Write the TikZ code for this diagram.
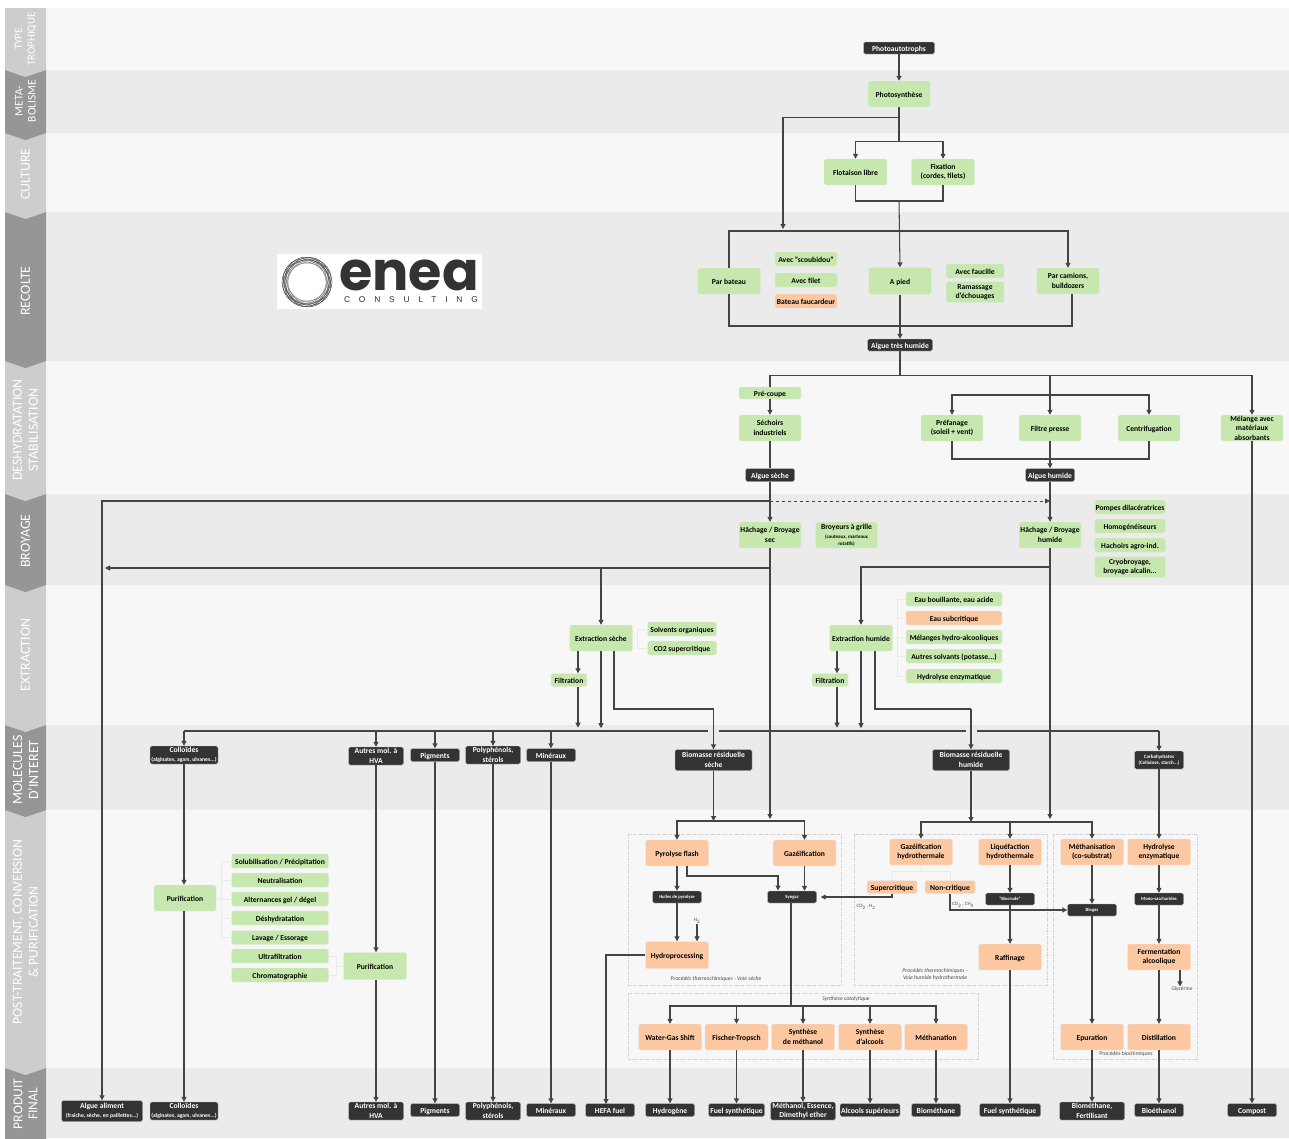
\documentclass[tikz,border=0pt]{standalone}
\usepackage{fontspec}
\usepackage{tikz}
\usetikzlibrary{arrows.meta}
\setmainfont{Carlito}
\newfontfamily\logobig{Poppins}
\newfontfamily\logotext[LetterSpace=105]{Liberation Sans}
\newcommand{\tinyline}[1]{{\fontsize{4.7}{6}\selectfont #1}}
\newcommand{\subline}[1]{{\fontsize{5.7}{6}\selectfont #1}}
\newcommand{\midline}[1]{{\fontsize{5}{6}\selectfont #1}}
\definecolor{bandlight}{HTML}{F7F7F7}
\definecolor{bandgray}{HTML}{EBEBEB}
\definecolor{tablight}{HTML}{CDCDCD}
\definecolor{tabdark}{HTML}{969696}
\definecolor{boxgreen}{HTML}{C6E8AE}
\definecolor{boxorange}{HTML}{FCC8A2}
\definecolor{boxdark}{HTML}{333333}
\definecolor{linegray}{HTML}{444444}
\tikzset{
	boxbase/.style={rounded corners=1.5pt,inner sep=0pt,align=center,font=\fontsize{7.6}{9.5}\selectfont\bfseries},
	greennode/.style={boxbase,fill=boxgreen,draw=black!8,text=black,execute at begin node={\rule{0pt}{7.6pt}}},
	orangenode/.style={boxbase,fill=boxorange,draw=black!8,text=black,execute at begin node={\rule{0pt}{7.6pt}}},
	darknode/.style={boxbase,fill=boxdark,draw=black!25,text=white,execute at begin node={\rule{0pt}{7.6pt}}},
	tinydark/.style={boxbase,fill=boxdark,draw=black!25,text=white},
	conn/.style={draw=linegray,line width=1.05pt},
	arr/.style={conn,-{Triangle[length=5pt,width=5pt]}},
	faint/.style={draw=black!8,line width=0.5pt},
	groupbox/.style={draw=black!18,line width=0.6pt,dash pattern=on 3pt off 1pt on 1pt off 1pt},
	caption/.style={inner sep=0pt,align=center,text=black!70,font=\fontsize{5.7}{7}\selectfont\itshape},
	tabtext/.style={inner sep=0pt,align=center,rotate=90,text=white}
}
\begin{document}
\begin{tikzpicture}[x=1pt,y=-1pt]
	\useasboundingbox (0,0) rectangle (1289,1138);
	\foreach \ytop/\ybot/\shade in {8/70/bandlight,70/133/bandgray,133/212/bandlight,212/361/bandgray,361/494/bandlight,494/585/bandgray,585/725/bandlight,725/810/bandgray,810/1068/bandlight,1068/1138/bandgray} {
		\fill[\shade] (46,\ytop) rectangle (1289,\ybot);
	}
	\foreach \ytop/\ybot/\shade in {1068/1145/tabdark,810/1068/tablight,725/810/tabdark,585/725/tablight,494/585/tabdark,361/494/tablight,212/361/tabdark,133/212/tablight,70/133/tabdark,8/70/tablight} {
		\fill[\shade] (5,\ytop) -- (46,\ytop) -- (46,\ybot) -- (25.5,\ybot+7) -- (5,\ybot) -- cycle;
	}
	\foreach \nodeid/\cy/\fs/\ls/\txt in {tabtype/39/11/13/{TYPE\\TROPHIQUE},tabmeta/101/11.5/13/{META-\\BOLISME},tabculture/174/14/14/CULTURE,tabrecolte/291/14/14/RECOLTE,tabdeshyd/430/14/16/{DESHYDRATATION\\STABILISATION},tabbroyage/541/14/14/BROYAGE,tabextraction/655/14/14/EXTRACTION,tabmolecules/770/14/16/{MOLECULES\\D'INTERET},tabpost/932/13.7/16/{POST-TRAITEMENT, CONVERSION\\\& PURIFICATION},tabproduit/1104/13.5/15/{PRODUIT\\FINAL}} {
		\node[tabtext,font=\fontsize{\fs}{\ls}\selectfont] (\nodeid) at (25.5,\cy) {\txt};
	}
	\fill[white] (277,254) rectangle (482,309);
	\foreach \angle in {0,35,70,105,140} {
		\draw[black!70,line width=0.5pt] (307,282) ellipse[x radius=25,y radius=22,rotate=\angle];
		\draw[black!55,line width=0.4pt] (307,282) ellipse[x radius=22,y radius=19,rotate=\angle];
	}
	\node[inner sep=0pt,font=\logobig\bfseries\fontsize{54}{54}\selectfont,text=boxdark] (logoname) at (409,275) {enea};
	\node[inner sep=0pt,font=\logotext\fontsize{8.4}{9}\selectfont,text=boxdark] (logoline) at (411,300) {CONSULTING};

	\draw[groupbox] (628,834) rectangle (841,985);
	\draw[groupbox] (854,834) rectangle (1047,985);
	\draw[groupbox] (628,993) rectangle (978,1059);
	\draw[groupbox] (1053,834) rectangle (1197,1059);

	\foreach \nodeid/\cx/\cy/\bw/\bh/\txt in {
		photosyn/899/94/62/26/Photosynthèse,
		flottaison/855.5/172/63/26/Flotaison libre,
		fixation/943/172/63/26/{Fixation\\(cordes, filets)},
		parbateau/729/281/63/26/Par bateau,
		scoubidou/806/259/62/14/{Avec "scoubidou"},
		avecfilet/806/280/62/14/Avec filet,
		apied/900/281/63/27/A pied,
		faucille/975/271/58/14/Avec faucille,
		ramassage/975/292/58/21/{Ramassage\\d'échouages},
		camions/1068/281/63/26/{Par camions,\\bulldozers},
		precoupe/770/393/62/12/Pré-coupe,
		sechoirs/770/428/62/26/{Séchoirs\\industriels},
		prefanage/952/428/62/26/{Préfanage\\(soleil + vent)},
		filtrepresse/1050/428/62/26/Filtre presse,
		centrif/1149/428/62/26/Centrifugation,
		melange/1252/428/62/26/{Mélange avec\\matériaux\\absorbants},
		hachsec/770/535/62/26/{Hâchage / Broyage\\sec},
		broyeurs/846.5/535/62/26/{Broyeurs à grille\\\midline{(couteaux, marteaux}\\[-3pt]\midline{rotatifs)}},
		hachhum/1050/535/62/26/{Hâchage / Broyage\\humide},
		pompes/1130/507/71/14/Pompes dilacératrices,
		homog/1130/526/71/14/Homogénéiseurs,
		hachoirs/1130/545/71/14/Hachoirs agro-ind.,
		cryo/1130/567/71/21/{Cryobroyage,\\broyage alcalin...},
		extsec/601/638/63/26/Extraction sèche,
		solvants/682/629/69/14/Solvents organiques,
		cotwo/682/648/69/14/CO2 supercritique,
		filtra/569/680/36/13/Filtration,
		exthum/861/638/63/26/Extraction humide,
		eaubouil/954/599/96/14/{Eau bouillante, eau acide},
		melhydro/954/637/96/14/Mélanges hydro-alcooliques,
		autressolv/954/656/96/14/{Autres solvants (potasse...)},
		hydrolyse/954/676/96/14/Hydrolyse enzymatique,
		filtrb/830/680/36/13/Filtration,
		purifa/185/898/62/26/Purification,
		solub/280/861/97/14/{Solubilisation / Précipitation},
		neutral/280/880/97/14/Neutralisation,
		gelage/280/899/97/14/{Alternances gel / dégel},
		deshyd/280/918/97/14/Déshydratation,
		lavage/280/937.5/97/14/{Lavage / Essorage},
		ultra/280/956/97/14/Ultrafiltration,
		chroma/280/975/97/14/Chromatographie,
		purifb/375/966/63/27/Purification} {
		\node[greennode,minimum width=\bw,minimum height=\bh] (\nodeid) at (\cx,\cy) {\txt};
	}
	\foreach \nodeid/\cx/\cy/\bw/\bh/\txt in {
		faucardeur/806/301/62/14/Bateau faucardeur,
		eausub/954/618/96/14/Eau subcritique,
		pyro/677/853/63/26/Pyrolyse flash,
		gazeif/804.5/853/63/26/Gazéification,
		gazhydro/921/852/63/26/{Gazéification\\hydrothermale},
		liquef/1010/852/63/26/{Liquéfaction\\hydrothermale},
		methanis/1092/852/63/26/{Méthanisation\\(co-substrat)},
		hydrenz/1159/852/63/26/{Hydrolyse\\enzymatique},
		supercrit/892/887/50/13/Supercritique,
		noncrit/950/887/50/13/Non-critique,
		hydroproc/677/955/63/27/Hydroprocessing,
		raffinage/1010/957/63/26/Raffinage,
		ferment/1159/957/63/26/{Fermentation\\alcoolique},
		wgs/670/1037/63/26/Water-Gas Shift,
		fischer/736.5/1037/63/26/Fischer-Tropsch,
		synmeth/803/1037/63/26/{Synthèse\\de méthanol},
		synalc/870/1037/63/26/{Synthèse\\d'alcools},
		methanat/936/1037/63/26/Méthanation,
		epur/1092/1037/63/26/Epuration,
		distil/1159/1037/63/26/Distillation} {
		\node[orangenode,minimum width=\bw,minimum height=\bh] (\nodeid) at (\cx,\cy) {\txt};
	}
	\foreach \nodeid/\cx/\cy/\bw/\bh/\txt in {
		photo/899/48/71/12/Photoautotrophs,
		tres/900/345/65/12/Algue très humide,
		algueseche/770/475/49/13/Algue sèche,
		alguehumide/1050/475/49/13/Algue humide,
		colloa/184/755/68/18/{Colloïdes\\[-1pt]\subline{(alginates, agars, ulvanes...)}},
		autresa/376/756/55/18/{Autres mol. à\\HVA},
		pigma/435/755/49/13/Pigments,
		polya/493/755/55/18/{Polyphénols,\\stérols},
		minea/551/755/49/13/Minéraux,
		biosec/713.5/760/77/21/{Biomasse résiduelle\\sèche},
		biohum/971/760/77/21/{Biomasse résiduelle\\humide},
		alguefin/102/1111/81/21/{Algue aliment\\[-1pt]\subline{(fraîche, sèche, en paillettes...)}},
		collofin/184/1111/68/18/{Colloïdes\\[-1pt]\subline{(alginates, agars, ulvanes...)}},
		autresfin/376/1111/55/18/{Autres mol. à\\HVA},
		pigmfin/435/1110/49/13/Pigments,
		polyfin/493/1111/55/18/{Polyphénols,\\stérols},
		minefin/551/1110/49/13/Minéraux,
		hefafin/610/1110/49/13/HEFA fuel,
		hydrofin/670/1110/49/13/Hydrogène,
		fuelfin/736.5/1110/56/13/Fuel synthétique,
		methafin/803/1111/65/18/{Méthanol, Essence,\\Dimethyl ether},
		alcfin/870/1110/60/13/Alcools supérieurs,
		biomfin/936/1110/49/13/Biométhane,
		fueltwo/1010/1110/61/13/Fuel synthétique,
		fertfin/1092/1111/65/18/{Biométhane,\\Fertilisant},
		bioetfin/1159/1110/49/13/Bioéthanol,
		compost/1252/1110/49/13/Compost} {
		\node[darknode,minimum width=\bw,minimum height=\bh] (\nodeid) at (\cx,\cy) {\txt};
	}
	\foreach \nodeid/\cx/\cy/\bw/\bh/\txt in {
		carbo/1159/760/49/18/{\midline{Carbohydrates}\\[-3pt]\midline{(Cellulose, starch...)}},
		huiles/677/897/49/12/{\tinyline{Huiles de pyrolyse}},
		syngaz/792/897/49/12/{\tinyline{Syngaz}},
		biocrude/1010/899/49/12/{\tinyline{"Biocrude"}},
		biogaz/1092/910/49/12/{\tinyline{Biogaz}},
		mono/1159/899/49/12/{\tinyline{Mono-saccharides}}} {
		\node[tinydark,minimum width=\bw,minimum height=\bh] (\nodeid) at (\cx,\cy) {\txt};
	}
	\node[caption] (capseche) at (716,979) {Procédés thermochimiques - Voie sèche};
	\node[caption] (caphumide) at (935,974) {Procédés thermochimiques -\\Voie humide hydrothermale};
	\node[caption] (capsynth) at (846,999) {Synthèse catalytique};
	\node[caption,font=\fontsize{5.7}{7}\selectfont] (capbio) at (1126,1054) {Procédés biochimiques};
	\node[caption,font=\fontsize{5}{6}\selectfont] (htwo) at (697,921) {H\textsubscript{2}};
	\node[caption,font=\fontsize{5}{6}\selectfont] (cohyd) at (866,907) {CO\textsubscript{2} , H\textsubscript{2}};
	\node[caption,font=\fontsize{5}{6}\selectfont] (coch) at (963,905) {CO\textsubscript{2} , CH\textsubscript{4}};
	\node[caption,font=\fontsize{5.5}{7}\selectfont] (glycerine) at (1182,989) {Glycérine};

	\foreach \parent/\child in {parbateau/scoubidou,parbateau/avecfilet,parbateau/faucardeur,apied/faucille,apied/ramassage,hachsec/broyeurs,hachhum/pompes,hachhum/homog,hachhum/hachoirs,hachhum/cryo,extsec/solvants,extsec/cotwo,exthum/eaubouil,exthum/eausub,exthum/melhydro,exthum/autressolv,exthum/hydrolyse,purifa/solub,purifa/neutral,purifa/gelage,purifa/deshyd,purifa/lavage} {
		\draw[faint] (\parent.east) -- ([xshift=5pt]\parent.east) |- (\child.west);
	}
	\foreach \child in {ultra,chroma} {
		\draw[faint] (purifb.west) -- ([xshift=-7pt]purifb.west) |- (\child.east);
	}
	\draw[faint] (gazhydro.south) -- ++(0,6) -| (supercrit.north);
	\draw[faint] (gazhydro.south) -- ++(0,6) -| (noncrit.north);

	\coordinate (cultureturn) at (783,229);
	\coordinate (footfork) at (899,201);
	\coordinate (harvest) at (900,231);
	\coordinate (gather) at (900,326);
	\coordinate (dryfan) at (1050,375);
	\coordinate (presstop) at (1050,395);
	\coordinate (pressbot) at (1050,459);
	\coordinate (leftturn) at (770,501);
	\coordinate (wetturn) at (1050,501);
	\coordinate (feedfork) at (770,568);
	\coordinate (feedtip) at (105,568);
	\coordinate (dryfork) at (601,568);
	\coordinate (wetfork) at (1050,567);
	\coordinate (busa) at (184,731);
	\coordinate (busb) at (708,731);
	\coordinate (busc) at (719,731);
	\coordinate (busd) at (966,731);
	\coordinate (buse) at (977,731);
	\coordinate (busf) at (1159,731);
	\coordinate (dryin) at (770,819);
	\coordinate (wetin) at (1050,819);
	\coordinate (drybar) at (713.5,821);
	\coordinate (wetbar) at (971,822);
	\coordinate (catbar) at (791,1006);
	\coordinate (hefadrop) at (606,1104);
	\coordinate (dryturn) at (713.5,709);
	\coordinate (wetjump) at (971,709);
	\coordinate (pyroturn) at (778,876);
	\coordinate (pyroin) at (778,890.5);

	\draw[arr] (photo.south) -- (photosyn.north);
	\draw[arr] (photosyn.south) -- ++(0,10) -| (cultureturn);
	\draw[arr] (photosyn.south) -- ++(0,34) -| (flottaison.north);
	\draw[arr] (photosyn.south) -- ++(0,34) -| (fixation.north);
	\draw[conn] (flottaison.south) |- (footfork) -| (fixation.south);
	\draw[arr] (footfork) -- (apied.north);
	\draw[arr] (parbateau.north) |- (harvest) -| (camions.north);
	\draw[conn] (parbateau.south) |- (gather) -| ([xshift=4pt]camions.south);
	\draw[arr] (apied.south) -- (tres.north);
	\draw[conn] (tres.south) -- ++(0,24) coordinate (deshydbar);
	\draw[conn] (precoupe.north) |- (deshydbar);
	\draw[arr] (deshydbar) -| (melange.north);
	\draw[arr] (dryfan) -- (filtrepresse.north);
	\draw[arr] (presstop) -| (prefanage.north);
	\draw[arr] (presstop) -| (centrif.north);
	\draw[arr] (precoupe.south) -- (sechoirs.north);
	\draw[conn] (prefanage.south) |- (pressbot) -| (centrif.south);
	\draw[arr] (filtrepresse.south) -- (alguehumide.north);
	\draw[conn] (sechoirs.south) -- (algueseche.north);
	\draw[arr] (algueseche.south) -- (hachsec.north);
	\draw[arr] (alguehumide.south) -- (hachhum.north);
	\draw[arr] (leftturn) -| (alguefin.north);
	\draw[arr,dashed,line width=0.8pt] (leftturn) -- (wetturn);
	\draw[arr] (hachsec.south) -- (dryin);
	\draw[arr] (feedfork) -- (feedtip);
	\draw[arr] (dryfork) -- (extsec.north);
	\draw[arr] (hachhum.south) -- (wetin);
	\draw[arr] (wetfork) -| (exthum.north);
	\draw[arr] ([xshift=-23pt]extsec.south) -- ([xshift=9pt]filtra.north);
	\draw[arr] ([xshift=9pt]filtra.south) -- ++(0,41);
	\draw[arr] (extsec.south) -- ++(0,77);
	\draw[conn] ([xshift=13pt]extsec.south) |- (dryturn);
	\draw[arr] (dryturn) -- (biosec.north);
	\draw[arr] ([xshift=-24pt]exthum.south) -- ([xshift=7pt]filtrb.north);
	\draw[arr] ([xshift=7pt]filtrb.south) -- ++(0,41);
	\draw[arr] (exthum.south) -- ++(0,77);
	\draw[conn] ([xshift=14pt]exthum.south) |- (wetjump);
	\draw[arr] (wetjump) -- (biohum.north);
	\draw[conn] (busa) -- (busb);
	\draw[conn] (busc) -- (busd);
	\draw[conn] (buse) -- (busf);
	\draw[arr] (busa) -- (colloa.north);
	\foreach \child in {autresa,pigma,polya,minea} {
		\draw[arr] (\child.north |- busa) -- (\child.north);
	}
	\draw[arr] (busf) -- (carbo.north);
	\draw[arr] (colloa.south) -- (colloa.south |- purifa.north);
	\draw[arr] (colloa.south |- purifa.south) -- (collofin.north);
	\draw[arr] (autresa.south) -- (autresa.south |- purifb.north);
	\draw[arr] (autresa.south |- purifb.south) -- (autresfin.north);
	\draw[arr] (pigma.south) -- (pigmfin.north);
	\draw[arr] (polya.south) -- (polyfin.north);
	\draw[arr] (minea.south) -- (minefin.north);
	\draw[arr] (biosec.south) -- (drybar);
	\draw[arr] (drybar) -| (pyro.north);
	\draw[arr] (drybar) -| (gazeif.north);
	\draw[arr] (biohum.south) -- (wetbar);
	\draw[arr] (wetbar) -| (gazhydro.north);
	\draw[arr] (wetbar) -| (liquef.north);
	\draw[arr] (wetbar) -| (methanis.north);
	\draw[arr] (carbo.south) -- (hydrenz.north);
	\draw[arr] (pyro.south) -- (huiles.north);
	\draw[arr] ([xshift=10pt]pyro.south) |- (pyroturn) -- (pyroin);
	\draw[arr] (gazeif.south) -- (gazeif.south |- syngaz.north);
	\draw[arr] (huiles.south) -- (hydroproc.north);
	\draw[arr] (htwo.south) -- (htwo.south |- hydroproc.north);
	\draw[arr] (hydroproc.west) -| (hefadrop);
	\draw[arr] (supercrit.south) |- ([xshift=4pt]syngaz.east);
	\draw[arr] (noncrit.south) |- (biogaz.west);
	\draw[arr] (liquef.south) -- (biocrude.north);
	\draw[arr] (biocrude.south) -- (raffinage.north);
	\draw[arr] (raffinage.south) -- (fueltwo.north);
	\draw[arr] (methanis.south) -- (biogaz.north);
	\draw[arr] (biogaz.south) -- (epur.north);
	\draw[arr] (epur.south) -- (fertfin.north);
	\draw[arr] (hydrenz.south) -- (mono.north);
	\draw[arr] (mono.south) -- (ferment.north);
	\draw[arr] (ferment.south) -- (distil.north);
	\draw[arr] (distil.south) -- (bioetfin.north);
	\draw[arr] ([xshift=21pt]ferment.south) -- ([xshift=21pt]ferment.south |- glycerine.north);
	\draw[conn] (catbar |- syngaz.south) -- (catbar);
	\foreach \child/\result in {wgs/hydrofin,fischer/fuelfin,synmeth/methafin,synalc/alcfin,methanat/biomfin} {
		\draw[arr] (catbar) -| (\child.north);
		\draw[arr] (\child.south) -- (\result.north);
	}
	\draw[arr] (melange.south) -- (compost.north);
\end{tikzpicture}
\end{document}
